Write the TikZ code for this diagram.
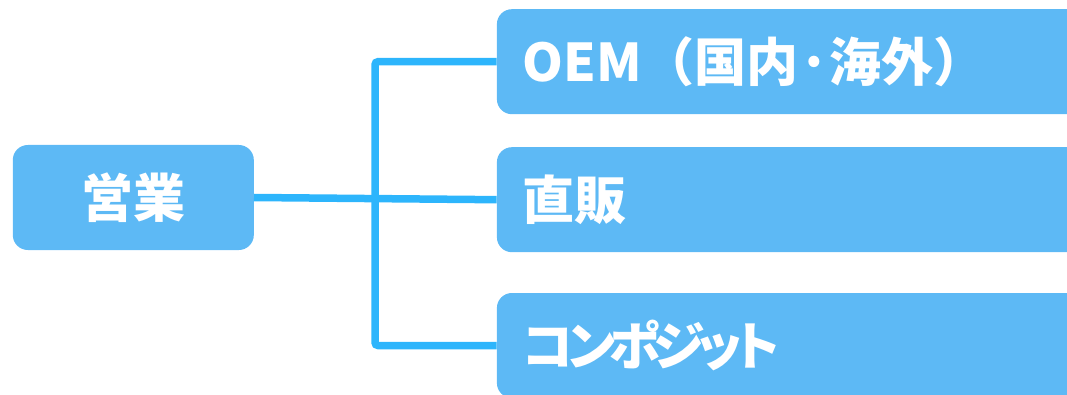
\documentclass[tikz,border=0pt]{standalone}
\usepackage{fontspec}
\setmainfont{Noto Sans CJK JP}
\newfontfamily\jppalt{Noto Sans CJK JP}[RawFeature=+palt, LetterSpace=-12]
\definecolor{boxblue}{HTML}{5DB9F5}
\definecolor{lineblue}{HTML}{2DB5FC}
\tikzset{
  leftbox/.style={fill=boxblue, rounded corners=15pt, minimum width=241pt, minimum height=105pt, inner sep=0pt, text=white, font=\fontsize{52pt}{56pt}\selectfont\bfseries},
  rightbox/.style={fill=boxblue, rounded corners=15pt, minimum height=105pt, inner xsep=26pt, inner ysep=0pt, text width=648pt, align=left, text=white, font=\fontsize{52pt}{56pt}\selectfont\bfseries},
  conn/.style={draw=lineblue, line width=7.5pt}
}
\begin{document}
\begin{tikzpicture}[x=1pt, y=-1pt]
\useasboundingbox (0,0) rectangle (1067,395);
\clip (0,0) rectangle (1067,395);
\node[leftbox] (eigyo) at (133.3,197.5) {営業};
\node[rightbox, anchor=west] (oem) at (496.7,61.7) {OEM（国内·海外）};
\node[rightbox, anchor=west] (choku) at (496.7,199.7) {直販};
\node[rightbox, anchor=west] (comp) at (496.7,345.5) {\jppalt\bfseries コンポジット};
\coordinate (j) at (375,198);
\draw[conn] (eigyo.east) -- (choku.west);
\draw[conn, rounded corners=3pt] (oem.west) -| (j) |- (comp.west);
\end{tikzpicture}
\end{document}
